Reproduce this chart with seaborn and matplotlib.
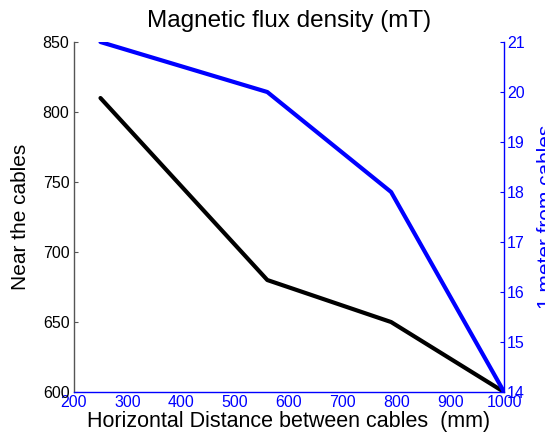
import matplotlib
matplotlib.use("Agg")
import matplotlib.pyplot as plt
import seaborn as sns
import pandas as pd

sns.set_style("white")
plt.rcParams['font.family'] = ['Liberation Sans', 'DejaVu Sans']

distance = [250, 560, 790, 1000]
near_cables = [810, 680, 650, 600]
one_meter = [21, 20, 18, 14]

x_ticks = [200, 300, 400, 500, 600, 700, 800, 900, 1000]
left_ticks = [600, 650, 700, 750, 800, 850]
right_ticks = [14, 15, 16, 17, 18, 19, 20, 21]

df = pd.DataFrame({"distance": distance, "near": near_cables, "meter": one_meter})

fig = plt.figure(figsize=(5.45, 4.40), dpi=100)
ax = fig.add_axes([0.135, 0.109, 0.790, 0.7955])
ax2 = ax.twinx()

sns.lineplot(data=df, x="distance", y="near", ax=ax, color="black", linewidth=3.0)
sns.lineplot(data=df, x="distance", y="meter", ax=ax2, color="#0000ff", linewidth=3.0)

ax.set_xlim(200, 1000)
ax.set_ylim(600, 850)
ax2.set_ylim(14, 21)
ax.set_xticks(x_ticks)
ax.set_yticks(left_ticks)
ax2.set_yticks(right_ticks)

blue = "#0000ff"
ax.tick_params(axis='x', direction='in', length=3, colors=blue, labelsize=11.5, pad=2, width=0.8)
ax.tick_params(axis='y', direction='in', length=3, colors="#555555", labelcolor="black", labelsize=11.5, pad=3)
ax2.tick_params(axis='y', direction='in', length=3, colors=blue, labelsize=11.5, pad=2)

for s in ["top"]:
    ax.spines[s].set_visible(False)
    ax2.spines[s].set_visible(False)
ax.spines["right"].set_visible(False)
ax2.spines["left"].set_visible(False)
ax2.spines["bottom"].set_visible(False)
ax.spines["bottom"].set_color(blue)
ax.spines["bottom"].set_linewidth(1.0)
ax.spines["left"].set_color("#555555")
ax.spines["left"].set_linewidth(1.0)
ax2.spines["right"].set_color(blue)
ax2.spines["right"].set_linewidth(1.0)

ax.set_xlabel("Horizontal Distance between cables  (mm)", fontsize=15.5, color="black", labelpad=1)
ax.set_ylabel("Near the cables", fontsize=15, color="black", labelpad=9)
ax2.set_ylabel("1 meter from cables", fontsize=15, color=blue, labelpad=9)
ax.set_title("Magnetic flux density (mT)", fontsize=17.5, color="black", pad=11)

fig.savefig("out.png", dpi=100)
